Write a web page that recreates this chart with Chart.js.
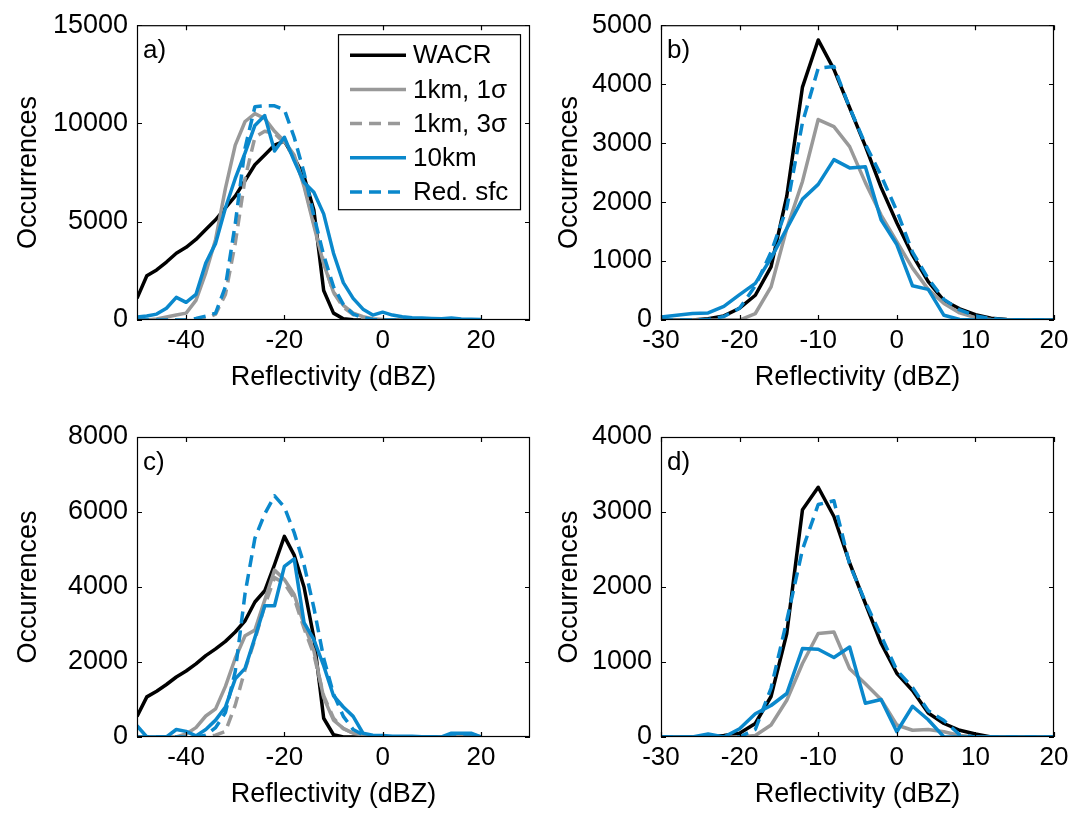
<html>
<head>
    <meta charset="utf-8" />
    <title>Reflectivity histograms</title>
    <script src="https://cdn.jsdelivr.net/npm/chart.js"></script>
    <style>
        body { margin: 0; background: #fff; overflow: hidden; }
        canvas { position: absolute; }
    </style>
</head>
<body>
<canvas id="pa" width="541" height="406" style="left:0px;top:0px"></canvas>
<canvas id="pb" width="542" height="406" style="left:541px;top:0px"></canvas>
<canvas id="pc" width="541" height="417" style="left:0px;top:406px"></canvas>
<canvas id="pd" width="542" height="417" style="left:541px;top:406px"></canvas>

<script>
    // reflectivity bins (dBZ)
    const binsAC = [-50, -48, -46, -44, -42, -40, -38, -36, -34, -32, -30, -28, -26, -24, -22, -20, -18, -16,
        -14, -12, -10, -8, -6, -4, -2, 0, 2, 4, 6, 8, 10, 12, 14, 16, 18, 20];
    const binsBD = [-30, -28, -26, -24, -22, -20, -18, -16, -14, -12, -10, -8, -6, -4, -2, 0, 2, 4, 6, 8,
        10, 12, 14, 16, 18, 20];

    const xTicksAC = [-40, -20, 0, 20];
    const xTicksBD = [-30, -20, -10, 0, 10, 20];
    const yTicksA = [0, 5000, 10000, 15000];
    const yTicksB = [0, 1000, 2000, 3000, 4000, 5000];
    const yTicksC = [0, 2000, 4000, 6000, 8000];
    const yTicksD = [0, 1000, 2000, 3000, 4000];

    const seriesNames = ['WACR', '1km, 1\u03c3', '1km, 3\u03c3', '10km', 'Red. sfc'];

    // panel a
    const wacrA = [1100, 2250, 2550, 2950, 3400, 3700, 4100, 4600, 5100, 5700, 6300, 7100, 7900, 8400, 8900, 9100, 8250, 7300,
        5600, 1500, 350, 60, 10, 0, 0, 0, 0, 0, 0, 0, 0, 0, 0, 0, 0, 0];
    const sig1A = [0, 0, 50, 150, 250, 350, 1000, 2400, 4100, 6700, 8900, 10100, 10500, 10250, 9600, 9100, 8400, 6800,
        4800, 2850, 1420, 750, 350, 170, 70, 20, 0, 0, 0, 0, 0, 0, 0, 0, 0, 0];
    const sig3A = [0, 0, 0, 0, 0, 0, 0, 50, 300, 1300, 3900, 7200, 9300, 9600, 9500, 9000, 8300, 6900,
        4900, 2950, 1400, 650, 280, 110, 40, 10, 0, 0, 0, 0, 0, 0, 0, 0, 0, 0];
    const km10A = [150, 200, 300, 600, 1150, 900, 1300, 2900, 3900, 5700, 7200, 8500, 9900, 10400, 8600, 9300, 8100, 7000,
        6500, 5400, 3400, 1900, 1100, 550, 250, 400, 250, 170, 120, 100, 80, 60, 100, 50, 40, 20];
    const redA = [0, 0, 0, 0, 0, 0, 80, 200, 350, 1700, 4900, 8750, 10850, 10900, 10900, 10700, 9300, 7500,
        5300, 3300, 1700, 800, 300, 120, 30, 0, 0, 0, 0, 0, 0, 0, 0, 0, 0, 0];

    // panel b
    const wacrB = [0, 0, 0, 20, 70, 200, 420, 900, 2100, 3950, 4750, 4250, 3600, 2950, 2250, 1650, 1100, 650,
        330, 190, 90, 30, 10, 0, 0, 0];
    const sig1B = [0, 0, 0, 0, 0, 0, 110, 560, 1550, 2350, 3400, 3280, 2940, 2330, 1780, 1330, 880, 520,
        280, 120, 40, 10, 0, 0, 0, 0];
    const km10B = [50, 80, 110, 120, 230, 430, 620, 1050, 1550, 2050, 2300, 2720, 2580, 2600, 1700, 1280, 580, 520,
        80, 10, 0, 0, 0, 0, 0, 0];
    const redB = [0, 0, 0, 10, 60, 200, 580, 1150, 1900, 3350, 4270, 4300, 3600, 2980, 2450, 1850, 1150, 700,
        350, 170, 70, 25, 5, 0, 0, 0];

    // panel c
    const wacrC = [550, 1070, 1220, 1400, 1600, 1760, 1950, 2170, 2350, 2550, 2800, 3100, 3600, 3900, 4600, 5350, 4850, 4000,
        2650, 500, 60, 0, 0, 0, 0, 0, 0, 0, 0, 0, 0, 0, 0, 0, 0, 0];
    const sig1C = [0, 0, 0, 0, 0, 80, 250, 560, 750, 1350, 2100, 2700, 2850, 3650, 4450, 4200, 3800, 3000,
        2300, 1050, 450, 230, 100, 50, 20, 0, 0, 0, 0, 0, 0, 0, 50, 80, 80, 0];
    const sig3C = [0, 0, 0, 0, 0, 0, 0, 0, 50, 150, 850, 1800, 2600, 3500, 4250, 4100, 3700, 2900,
        2200, 1100, 500, 220, 100, 40, 10, 0, 0, 0, 0, 0, 0, 0, 0, 0, 0, 0];
    const km10C = [300, 0, 0, 0, 200, 150, 30, 200, 450, 800, 1550, 1830, 2650, 3500, 3500, 4550, 4750, 3050,
        2600, 1900, 1100, 800, 550, 100, 50, 40, 20, 20, 20, 10, 10, 0, 100, 100, 100, 0];
    const redC = [0, 0, 0, 0, 0, 0, 0, 50, 250, 650, 1750, 3830, 5300, 5950, 6430, 6130, 5450, 4600,
        3450, 2100, 1150, 550, 200, 60, 10, 0, 0, 0, 0, 0, 0, 0, 0, 0, 0, 0];

    // panel d
    const wacrD = [0, 0, 0, 0, 20, 50, 180, 540, 1380, 3030, 3330, 2940, 2320, 1780, 1250, 850, 620, 320,
        180, 90, 40, 0, 0, 0, 0, 0];
    const sig1D = [0, 0, 0, 0, 0, 0, 20, 160, 490, 980, 1380, 1400, 910, 710, 500, 160, 90, 100,
        70, 20, 0, 0, 0, 0, 0, 0];
    const km10D = [0, 0, 0, 40, 0, 110, 310, 420, 580, 1180, 1170, 1060, 1200, 450, 500, 70, 410, 230,
        0, 0, 0, 0, 0, 0, 0, 0];
    const redD = [0, 0, 0, 0, 0, 0, 100, 650, 1550, 2500, 3100, 3150, 2300, 1800, 1350, 890, 660, 350,
        220, 30, 0, 0, 0, 0, 0, 0];

    const BLACK = '#000000';
    const GRAY = '#999999';
    const BLUE = '#0a88cc';
    const DASH = [12, 7];
    const FONT = '"Liberation Sans", Arial, Helvetica, sans-serif';

    Chart.defaults.font.family = FONT;
    Chart.defaults.color = '#000';

    // matlab style box, inward ticks, panel letter and legend
    const frame = {
        id: 'frame',
        afterDraw(chart, args, opts) {
            const ctx = chart.ctx;
            const a = chart.chartArea;
            const xs = chart.scales.x;
            const ys = chart.scales.y;
            ctx.save();
            ctx.strokeStyle = '#000';
            ctx.lineWidth = 1.2;
            ctx.setLineDash([]);
            ctx.strokeRect(a.left + 0.5, a.top + 0.5, a.right - a.left - 1, a.bottom - a.top - 1);
            ctx.beginPath();
            xs.ticks.forEach(t => {
                const px = Math.round(xs.getPixelForValue(t.value)) + 0.5;
                ctx.moveTo(px, a.bottom); ctx.lineTo(px, a.bottom - 5);
                ctx.moveTo(px, a.top); ctx.lineTo(px, a.top + 5);
            });
            ys.ticks.forEach(t => {
                const py = Math.round(ys.getPixelForValue(t.value)) + 0.5;
                ctx.moveTo(a.left, py); ctx.lineTo(a.left + 5, py);
                ctx.moveTo(a.right, py); ctx.lineTo(a.right - 5, py);
            });
            ctx.stroke();

            ctx.fillStyle = '#000';
            ctx.font = '26px ' + FONT;
            ctx.textAlign = 'left';
            ctx.textBaseline = 'middle';
            ctx.fillText(opts.label, a.left + 6, a.top + 26);

            if (opts.legend) {
                const bx = a.right - 192, by = a.top + 9, bw = 182, bh = 175;
                ctx.fillStyle = '#fff';
                ctx.fillRect(bx, by, bw, bh);
                ctx.lineWidth = 1.2;
                ctx.strokeRect(bx + 0.5, by + 0.5, bw, bh);
                chart.data.datasets.forEach((ds, i) => {
                    const y = by + 21 + i * 34.2;
                    ctx.strokeStyle = ds.borderColor;
                    ctx.lineWidth = 3.5;
                    ctx.setLineDash(ds.borderDash || []);
                    ctx.beginPath();
                    ctx.moveTo(bx + 12, y);
                    ctx.lineTo(bx + 68, y);
                    ctx.stroke();
                    ctx.setLineDash([]);
                    ctx.fillStyle = '#000';
                    ctx.fillText(ds.label, bx + 75, y + 1);
                });
            }
            ctx.restore();
        }
    };

    function makePanel(id, bins, series, xMin, xMax, xTicks, yMax, yTicks, label, leftW, padRight, padTop, legend) {
        const datasets = series.map((s, i) => ({
            label: s.name,
            data: bins.map((x, j) => ({x: x, y: s.values[j]})),
            borderColor: s.color,
            borderDash: s.dash,
            borderWidth: 3.5,
            borderJoinStyle: 'round',
            pointRadius: 0,
            tension: 0,
            fill: false,
            order: -i,
        }));

        return new Chart(document.getElementById(id), {
            type: 'line',
            data: {datasets: datasets},
            plugins: [frame],
            options: {
                responsive: false,
                animation: false,
                events: [],
                layout: {padding: {top: padTop, right: padRight, left: 0, bottom: 0}},
                plugins: {
                    legend: {display: false},
                    tooltip: {enabled: false},
                    frame: {label: label, legend: legend},
                },
                scales: {
                    x: {
                        type: 'linear',
                        min: xMin,
                        max: xMax,
                        grid: {display: false, drawTicks: false},
                        border: {display: false},
                        afterBuildTicks: s => { s.ticks = xTicks.map(v => ({value: v})); },
                        afterFit: s => { s.height = 86; },
                        ticks: {padding: 5, font: {size: 26}, maxRotation: 0, autoSkip: false, callback: v => String(v)},
                        title: {display: true, text: 'Reflectivity (dBZ)', font: {size: 27}, padding: {top: 0, bottom: 12}},
                    },
                    y: {
                        type: 'linear',
                        min: 0,
                        max: yMax,
                        grid: {display: false, drawTicks: false},
                        border: {display: false},
                        afterBuildTicks: s => { s.ticks = yTicks.map(v => ({value: v})); },
                        afterFit: s => { s.width = leftW; },
                        ticks: {padding: 9, font: {size: 27}, autoSkip: false, callback: v => String(v)},
                        title: {display: true, text: 'Occurrences', font: {size: 27}, padding: {top: 12, bottom: 0}},
                    }
                }
            }
        });
    }

    function five(w, s1, s3, k10, red) {
        const out = [
            {name: seriesNames[0], values: w, color: BLACK, dash: []},
            {name: seriesNames[1], values: s1, color: GRAY, dash: []},
        ];
        if (s3) out.push({name: seriesNames[2], values: s3, color: GRAY, dash: DASH});
        out.push({name: seriesNames[3], values: k10, color: BLUE, dash: []});
        out.push({name: seriesNames[4], values: red, color: BLUE, dash: DASH});
        return out;
    }

    makePanel('pa', binsAC, five(wacrA, sig1A, sig3A, km10A, redA), -50, 30, xTicksAC, 15000, yTicksA, 'a)', 137, 11, 20, true);
    makePanel('pb', binsBD, five(wacrB, sig1B, null, km10B, redB), -30, 20, xTicksBD, 5000, yTicksB, 'b)', 120, 29, 20, false);
    makePanel('pc', binsAC, five(wacrC, sig1C, sig3C, km10C, redC), -50, 30, xTicksAC, 8000, yTicksC, 'c)', 137, 11, 31, false);
    makePanel('pd', binsBD, five(wacrD, sig1D, null, km10D, redD), -30, 20, xTicksBD, 4000, yTicksD, 'd)', 120, 29, 31, false);
</script>
</body>
</html>
